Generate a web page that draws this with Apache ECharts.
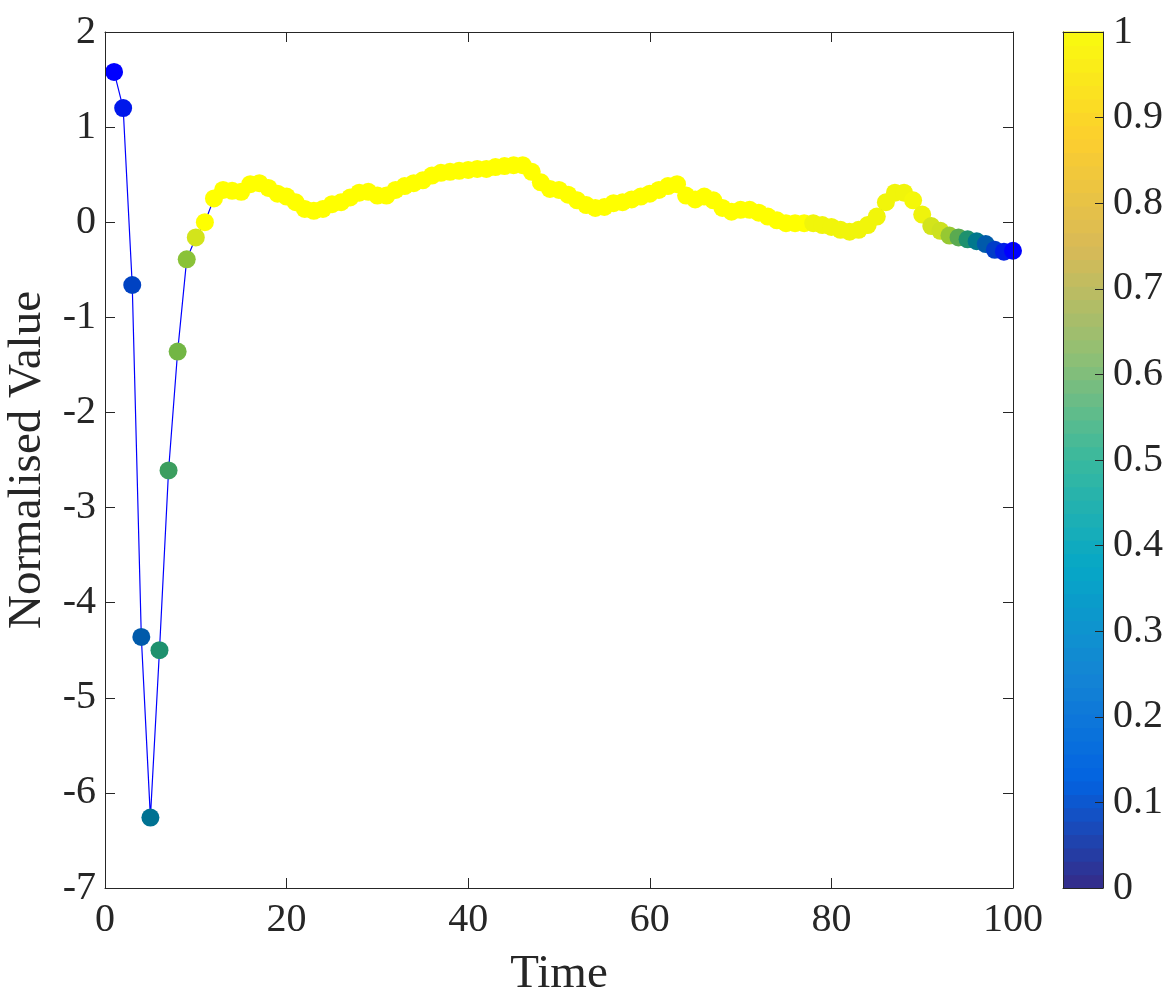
<!DOCTYPE html>
<html>
<head>
<meta charset="utf-8">
<script src="https://cdn.jsdelivr.net/npm/echarts@6/dist/echarts.min.js"></script>
<style>
  html, body { margin: 0; padding: 0; background: #fff; }
  #chart { width: 1171px; height: 997px; }
</style>
</head>
<body>
<div id="chart"></div>
<script>
// normalised values at time 1..100
var values = [
    1.58, 1.20, -0.66, -4.36, -6.26, -4.50, -2.61, -1.36, -0.39, -0.16,
    0.00, 0.25, 0.34, 0.33, 0.32, 0.40, 0.41, 0.36, 0.30, 0.27,
    0.21, 0.14, 0.12, 0.14, 0.19, 0.21, 0.26, 0.31, 0.32, 0.28,
    0.28, 0.34, 0.38, 0.41, 0.44, 0.49, 0.52, 0.53, 0.54, 0.55,
    0.56, 0.56, 0.58, 0.59, 0.60, 0.60, 0.53, 0.42, 0.35, 0.34,
    0.29, 0.23, 0.18, 0.15, 0.16, 0.20, 0.21, 0.24, 0.27, 0.30,
    0.34, 0.38, 0.40, 0.28, 0.24, 0.27, 0.23, 0.15, 0.11, 0.13,
    0.13, 0.10, 0.06, 0.02, -0.01, -0.01, -0.01, -0.01, -0.03, -0.05,
    -0.08, -0.10, -0.08, -0.03, 0.06, 0.21, 0.31, 0.31, 0.23, 0.08,
    -0.04, -0.09, -0.14, -0.16, -0.18, -0.20, -0.23, -0.29, -0.31, -0.30
];
// colour weight of each point (0 = blue, 1 = yellow)
var weights = [
    0.00, 0.08, 0.22, 0.30, 0.38, 0.50, 0.55, 0.64, 0.68, 0.82,
    1, 1, 1, 1, 1, 1, 1, 1, 1, 1,
    1, 1, 1, 1, 1, 1, 1, 1, 1, 1,
    1, 1, 1, 1, 1, 1, 1, 1, 1, 1,
    1, 1, 1, 1, 1, 1, 1, 1, 1, 1,
    1, 1, 1, 1, 1, 1, 1, 1, 1, 1,
    1, 1, 1, 1, 1, 1, 1, 1, 1, 1,
    1, 1, 1, 1, 1, 1, 1, 0.93, 0.93, 0.93,
    0.93, 0.93, 0.93, 0.93, 0.93, 0.93, 0.93, 0.93, 0.95, 0.92,
    0.82, 0.80, 0.70, 0.60, 0.50, 0.40, 0.30, 0.20, 0.10, 0.00
];

var pointRamp = ['#0000ff', '#001ee6', '#003cc8', '#005aaa', '#00788c', '#1e916e',
    '#5aaa50', '#96c832', '#cde11e', '#ebf00f', '#ffff00'];
var parula = ['#352a87', '#0363e1', '#1485d4', '#06a7c6', '#38b99e', '#92bf73',
    '#d9ba56', '#fcce2e', '#f9fb0e'];

function hex(c) {
    return [parseInt(c.substr(1, 2), 16), parseInt(c.substr(3, 2), 16), parseInt(c.substr(5, 2), 16)];
}
function ramp(stops, t) {
    var n = stops.length - 1, p = Math.max(0, Math.min(1, t)) * n, i = Math.min(Math.floor(p), n - 1), f = p - i;
    var a = hex(stops[i]), b = hex(stops[i + 1]);
    return 'rgb(' + [0, 1, 2].map(function (k) { return Math.round(a[k] + (b[k] - a[k]) * f); }).join(',') + ')';
}

var points = [];
for (var i = 0; i < values.length; i++) {
    points.push({value: [i + 1, values[i]], itemStyle: {color: ramp(pointRamp, weights[i])}});
}
var bands = [];
for (var j = 0; j < 64; j++) {
    bands.push([j]);
}

var font = '"Liberation Serif", "DejaVu Serif", serif';
var ink = '#262626';

function frameAxis(extra) {
    var a = {
        type: 'value', z: 10,
        axisLine: {onZero: false, lineStyle: {color: ink, width: 1}},
        axisTick: {show: false},
        axisLabel: {show: false},
        splitLine: {show: false}
    };
    for (var k in extra) a[k] = extra[k];
    return a;
}

var ech = echarts.init(document.getElementById('chart'));
var option = {
    animation: false,
    textStyle: {fontFamily: font, color: ink},
    grid: [
        {left: 105, top: 32, width: 908, height: 856, outerBoundsMode: 'none', containLabel: false},
        {left: 1063, top: 32, width: 40, height: 856, outerBoundsMode: 'none', containLabel: false}
    ],
    xAxis: [
        frameAxis({
            gridIndex: 0, min: 0, max: 100, interval: 20,
            axisTick: {inside: true, length: 10, lineStyle: {color: ink}},
            axisLabel: {fontFamily: font, fontSize: 40, color: ink, margin: 12},
            name: 'Time', nameLocation: 'middle', nameGap: 63,
            nameTextStyle: {fontFamily: font, fontSize: 47, color: ink}
        }),
        frameAxis({
            gridIndex: 0, min: 0, max: 100, interval: 20, position: 'top',
            axisTick: {inside: true, length: 10, lineStyle: {color: ink}}
        }),
        frameAxis({gridIndex: 1, min: 0, max: 1}),
        frameAxis({gridIndex: 1, min: 0, max: 1, position: 'top'})
    ],
    yAxis: [
        frameAxis({
            gridIndex: 0, min: -7, max: 2, interval: 1,
            axisTick: {inside: true, length: 10, lineStyle: {color: ink}},
            axisLabel: {fontFamily: font, fontSize: 40, color: ink, margin: 9},
            name: 'Normalised Value', nameLocation: 'middle', nameGap: 54,
            nameTextStyle: {fontFamily: font, fontSize: 47, color: ink}
        }),
        frameAxis({
            gridIndex: 0, min: -7, max: 2, interval: 1, position: 'right',
            axisTick: {inside: true, length: 10, lineStyle: {color: ink}}
        }),
        frameAxis({gridIndex: 1, min: 0, max: 1, interval: 0.1, position: 'left'}),
        frameAxis({
            gridIndex: 1, min: 0, max: 1, interval: 0.1, position: 'right',
            axisTick: {inside: true, length: 8, lineStyle: {color: ink}},
            axisLabel: {fontFamily: font, fontSize: 40, color: ink, margin: 10}
        })
    ],
    series: [
        {
            type: 'line', xAxisIndex: 0, yAxisIndex: 0,
            data: points,
            symbol: 'circle', symbolSize: 18,
            lineStyle: {color: '#0000ff', width: 1.2},
            z: 3
        },
        {
            type: 'custom', xAxisIndex: 2, yAxisIndex: 2,
            data: bands,
            renderItem: function (params, api) {
                var k = api.value(0);
                var p0 = api.coord([0, k / 64]);
                var p1 = api.coord([1, (k + 1) / 64]);
                return {
                    type: 'rect',
                    shape: {x: p0[0], y: p1[1] - 0.5, width: p1[0] - p0[0], height: p0[1] - p1[1] + 1},
                    style: {fill: ramp(parula, (k + 0.5) / 64)}
                };
            },
            z: 2
        }
    ]
};
ech.setOption(option);
</script>
</body>
</html>
